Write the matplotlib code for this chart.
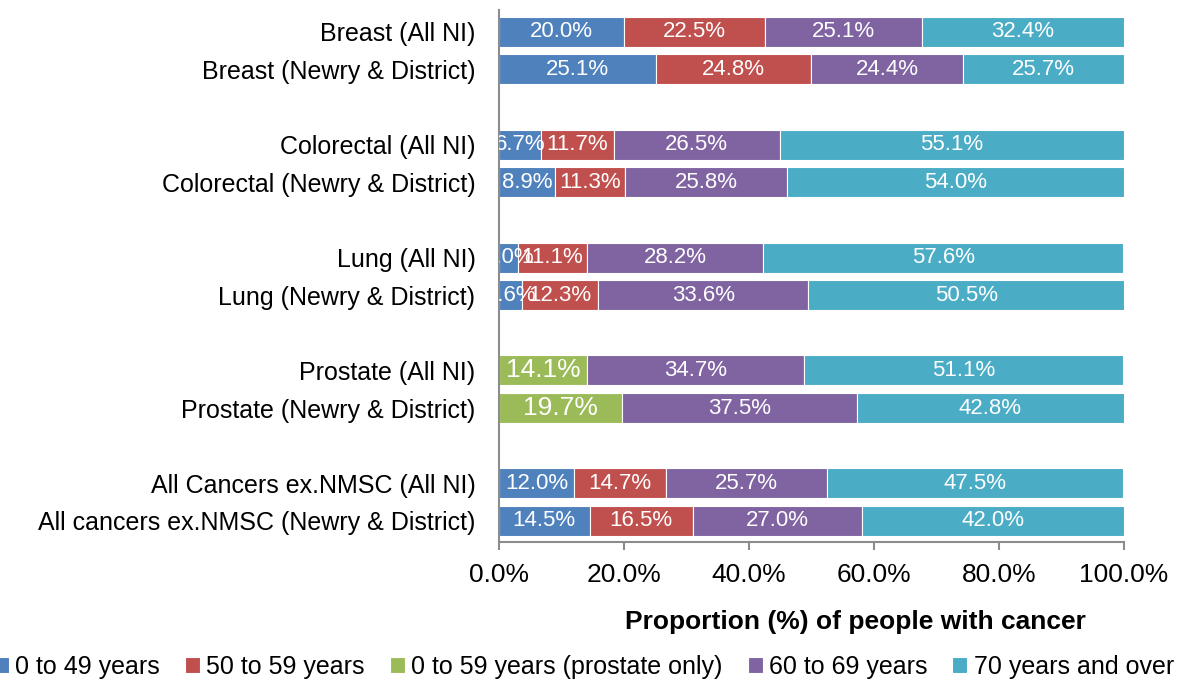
import numpy as np
import matplotlib.pyplot as plt

plt.rcParams['font.family'] = ['Liberation Sans', 'DejaVu Sans']

categories = ['Breast (All NI)', 'Breast (Newry & District)',
              'Colorectal (All NI)', 'Colorectal (Newry & District)',
              'Lung (All NI)', 'Lung (Newry & District)',
              'Prostate (All NI)', 'Prostate (Newry & District)',
              'All Cancers ex.NMSC (All NI)', 'All cancers ex.NMSC (Newry & District)']
age_0_49 = [20.0, 25.1, 6.7, 8.9, 3.0, 3.6, 0, 0, 12.0, 14.5]
age_50_59 = [22.5, 24.8, 11.7, 11.3, 11.1, 12.3, 0, 0, 14.7, 16.5]
age_0_59_prostate = [0, 0, 0, 0, 0, 0, 14.1, 19.7, 0, 0]
age_60_69 = [25.1, 24.4, 26.5, 25.8, 28.2, 33.6, 34.7, 37.5, 25.7, 27.0]
age_70_plus = [32.4, 25.7, 55.1, 54.0, 57.6, 50.5, 51.1, 42.8, 47.5, 42.0]

series_names = ['0 to 49 years', '50 to 59 years', '0 to 59 years (prostate only)',
                '60 to 69 years', '70 years and over']
colors = ['#4F81BD', '#C0504D', '#9BBB59', '#8064A2', '#4BACC6']

# row positions, with a gap between each pair
ypos = np.array([0, 1, 3, 4, 6, 7, 9, 10, 12, 13])

fig = plt.figure(figsize=(11.83, 6.82), dpi=100)
ax = fig.add_axes([499/1183, 1 - 542/682, (1124 - 499)/1183, 532/682])

series = [age_0_49, age_50_59, age_0_59_prostate, age_60_69, age_70_plus]
left = np.zeros(len(categories))
for vals, name, col in zip(series, series_names, colors):
    vals = np.array(vals)
    ax.barh(ypos, vals, left=left, height=0.8, color=col, label=name,
            edgecolor='white', linewidth=0.8)
    for y, l, v in zip(ypos, left, vals):
        if v > 0:
            # small segments spill over the axis edge and get clipped, as in the original
            fs = 19 if col == '#9BBB59' else 16
            ax.text(l + v / 2, y, f'{v:.1f}%', ha='center', va='center',
                    color='white', fontsize=fs, clip_on=True)
    left = left + vals

ax.set_ylim(13.56, -0.58)
ax.set_xlim(0, 100)
ax.set_yticks(ypos)
ax.set_yticklabels(categories, fontsize=18)
ax.tick_params(axis='y', length=0, pad=17)
ax.set_xticks([0, 20, 40, 60, 80, 100])
ax.set_xticklabels([f'{t:.1f}%' for t in [0, 20, 40, 60, 80, 100]], fontsize=19)
ax.tick_params(axis='x', direction='out', length=6, color='#8c8c8c', width=1.5, pad=9)
for s in ['top', 'right']:
    ax.spines[s].set_visible(False)
for s in ['left', 'bottom']:
    ax.spines[s].set_color('#8c8c8c')
    ax.spines[s].set_linewidth(1.5)

fig.text(855/1183, 1 - 622/682, 'Proportion (%) of people with cancer',
         ha='center', va='center', fontsize=19, fontweight='bold')

fig.legend(loc='center', bbox_to_anchor=(584/1183, 1 - 667/682), ncol=5,
           frameon=False, fontsize=18, handlelength=0.6, handleheight=0.6,
           handletextpad=0.25, columnspacing=1.0)

fig.savefig('out.png', dpi=100)
